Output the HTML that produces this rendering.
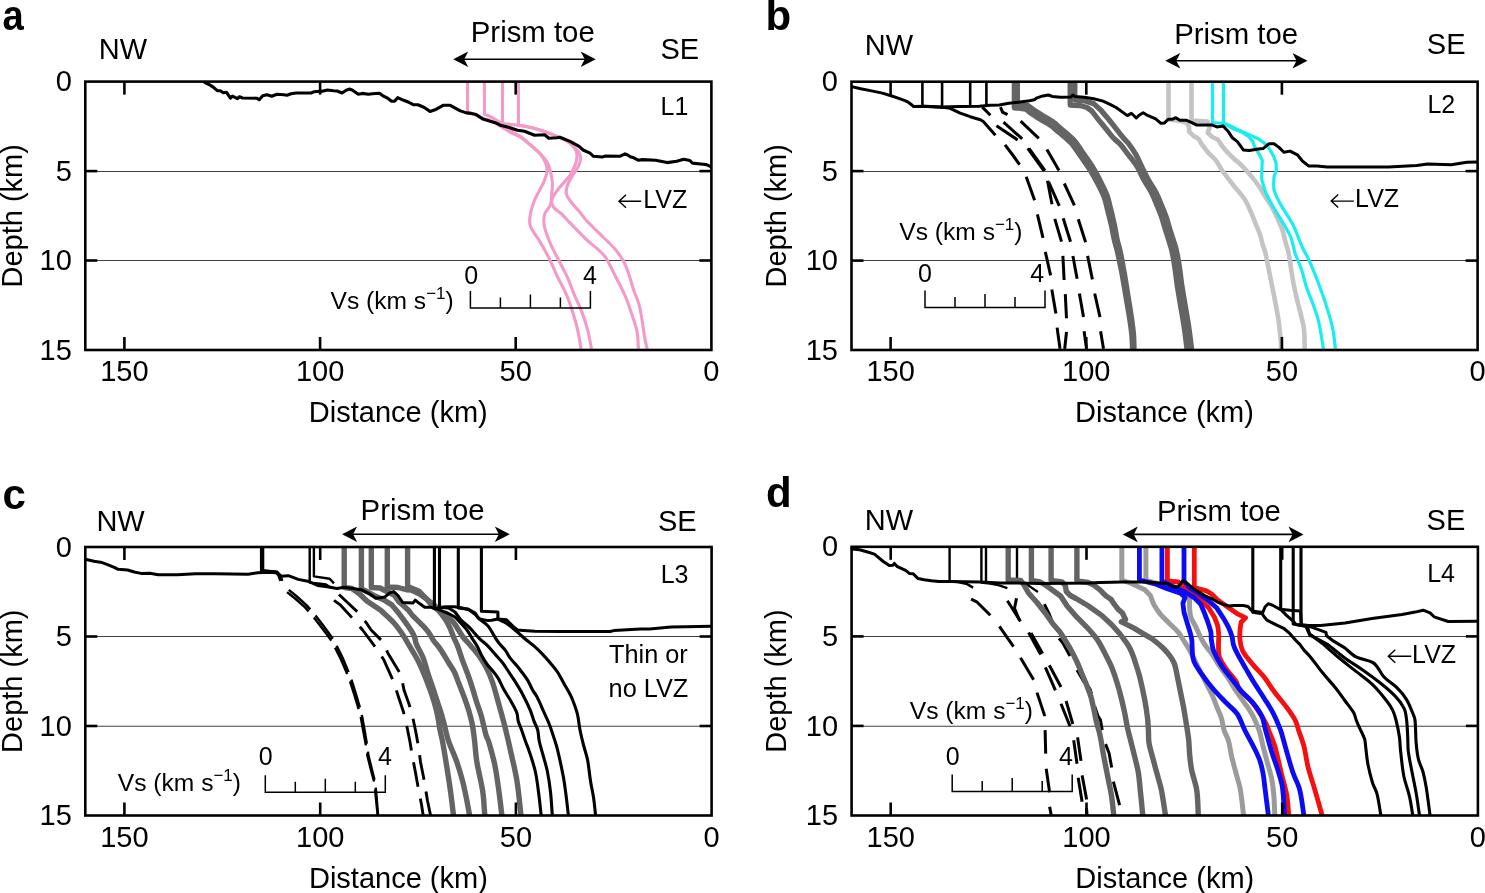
<!DOCTYPE html><html><head><meta charset="utf-8"><style>html,body{margin:0;padding:0;background:#fff;overflow:hidden}svg{display:block;will-change:transform}text{font-family:"Liberation Sans",sans-serif;fill:#000}</style></head><body>
<svg width="1485" height="893" viewBox="0 0 1485 893">
<rect width="1485" height="893" fill="#fff"/>
<line x1="85.3" y1="171.5" x2="711.4" y2="171.5" stroke="#404040" stroke-width="1.05"/>
<line x1="85.3" y1="260.5" x2="711.4" y2="260.5" stroke="#404040" stroke-width="1.05"/>
<line x1="851.5" y1="171.5" x2="1477.6" y2="171.5" stroke="#404040" stroke-width="1.05"/>
<line x1="851.5" y1="260.5" x2="1477.6" y2="260.5" stroke="#404040" stroke-width="1.05"/>
<line x1="85.3" y1="636.5" x2="711.6" y2="636.5" stroke="#404040" stroke-width="1.05"/>
<line x1="85.3" y1="726.3" x2="711.6" y2="726.3" stroke="#404040" stroke-width="1.05"/>
<line x1="851.6" y1="636.5" x2="1477.9" y2="636.5" stroke="#404040" stroke-width="1.05"/>
<line x1="851.6" y1="726.3" x2="1477.9" y2="726.3" stroke="#404040" stroke-width="1.05"/>
<path d="M467.5,81.6 L467.5,112.5 C470.3,113.3 473.3,113.9 476.0,115.0 C478.4,115.9 480.6,117.6 483.0,118.5 C485.3,119.4 487.9,119.5 490.2,120.5 C493.7,122.1 497.0,124.3 500.3,126.2 C503.7,128.2 507.0,130.4 510.4,132.3 C513.7,134.1 517.4,135.3 520.5,137.3 C524.1,139.6 527.3,142.6 530.6,145.4 C534.0,148.3 537.8,151.1 540.7,154.5 C542.8,157.0 544.5,160.1 545.7,163.2 C546.6,165.7 547.2,168.6 547.0,171.2 C546.8,174.4 545.6,177.6 544.4,180.6 C542.9,184.3 540.8,187.8 539.0,191.4 C537.6,194.3 535.8,197.0 534.7,200.0 C533.0,204.5 531.2,209.2 530.4,213.9 C529.7,217.8 529.1,222.3 530.4,226.0 C532.3,231.6 536.8,236.4 539.9,241.7 C542.9,246.8 545.9,252.0 548.6,257.3 C551.7,263.5 554.3,270.1 557.3,276.4 C560.1,282.2 563.5,287.8 566.0,293.7 C568.7,299.9 570.9,306.4 572.9,312.8 C574.9,319.1 576.7,325.5 578.1,331.9 C579.4,337.9 580.2,344.0 581.2,350.0" fill="none" stroke="#f39ac9" stroke-width="3.1" stroke-linejoin="round"/>
<path d="M484.4,81.6 L484.4,114.3 C486.3,115.0 488.2,115.6 490.0,116.5 C492.7,117.8 495.4,119.4 498.0,121.0 C500.4,122.5 502.7,124.3 505.0,126.0 C507.4,127.8 509.5,129.8 512.0,131.5 C515.2,133.7 518.9,135.2 522.0,137.5 C525.5,140.1 528.7,143.1 532.0,146.0 C535.2,148.9 538.6,151.8 541.5,155.0 C543.8,157.5 546.1,160.2 547.7,163.2 C549.0,165.6 549.8,168.5 550.4,171.2 C551.3,175.2 552.2,179.2 552.4,183.3 C552.6,186.9 552.0,190.5 551.7,194.1 C551.4,197.7 551.6,201.5 550.4,204.8 C549.3,208.1 545.8,210.6 544.8,213.9 C543.7,217.7 543.6,222.1 544.3,226.0 C545.4,231.9 547.9,237.8 550.3,243.4 C552.8,249.4 556.1,255.0 559.0,260.8 C561.9,266.6 565.1,272.2 567.7,278.1 C570.3,283.8 572.2,289.8 574.6,295.5 C576.8,300.8 579.6,305.8 581.6,311.1 C584.0,317.3 586.0,323.7 587.7,330.2 C589.4,336.7 590.4,343.4 591.7,350.0" fill="none" stroke="#f39ac9" stroke-width="3.1" stroke-linejoin="round"/>
<path d="M502.5,81.6 L502.5,123.5 C507.8,124.1 513.2,124.5 518.5,125.3 C523.2,126.0 528.0,126.6 532.6,127.8 C538.8,129.4 544.8,131.4 550.8,133.6 C554.3,134.9 557.6,136.7 560.9,138.3 C563.6,139.6 566.6,140.8 569.0,142.5 C571.1,144.0 573.1,145.9 574.5,148.0 C575.8,150.0 576.9,152.6 577.0,155.0 C577.2,158.1 576.4,161.5 575.3,164.5 C574.0,168.3 572.1,171.9 569.9,175.3 C568.0,178.2 565.4,180.6 563.2,183.3 C561.0,186.0 558.4,188.5 556.5,191.4 C554.6,194.3 552.2,197.6 551.7,200.8 C551.3,202.9 552.4,205.7 553.8,207.5 C555.8,210.2 559.3,211.8 561.8,214.2 C563.7,216.0 565.4,218.1 567.2,220.0 C573.7,226.7 580.1,233.4 586.8,239.9 C592.4,245.3 599.3,249.5 604.1,255.5 C608.6,261.1 611.2,268.2 614.6,274.6 C618.2,281.5 621.9,288.4 625.0,295.5 C627.7,301.7 629.8,308.2 631.9,314.6 C633.8,320.3 636.0,326.0 637.1,331.9 C638.2,337.8 638.0,344.0 638.5,350.0" fill="none" stroke="#f39ac9" stroke-width="3.1" stroke-linejoin="round"/>
<path d="M518.4,81.6 L518.4,125.0 C523.5,126.1 528.6,126.9 533.6,128.3 C540.4,130.2 547.2,132.5 553.8,135.0 C558.4,136.7 563.1,138.4 567.2,141.0 C570.3,142.9 572.7,145.8 575.3,148.4 C576.7,149.8 578.4,151.2 579.3,153.0 C580.2,154.8 580.8,157.1 580.6,159.1 C580.3,161.8 579.2,164.7 578.0,167.2 C576.6,170.1 574.2,172.5 572.6,175.3 C570.6,178.8 568.4,182.3 567.2,186.0 C566.4,188.5 565.9,191.6 566.5,194.1 C567.2,197.0 569.3,199.7 571.2,202.2 C574.0,206.0 577.6,209.3 580.6,212.9 C582.5,215.2 584.0,217.8 586.0,220.0 C590.7,225.1 595.8,229.8 600.7,234.7 C605.3,239.3 610.3,243.7 614.6,248.6 C617.8,252.4 620.8,256.5 623.2,260.8 C625.4,264.6 626.9,268.8 628.4,272.9 C630.4,278.6 631.8,284.6 633.7,290.3 C635.3,295.0 637.6,299.4 638.9,304.1 C640.5,309.8 641.3,315.7 642.3,321.5 C643.3,327.3 643.8,333.1 644.9,338.9 C645.6,342.6 646.6,346.3 647.5,350.0" fill="none" stroke="#f39ac9" stroke-width="3.1" stroke-linejoin="round"/>
<path d="M204.1,82.1 L210.2,85.1 L213.2,87.1 L217.3,90.7 L220.3,90.7 L223.3,92.7 L226.4,92.2 L230.4,98.2 L232.4,96.2 L237.5,98.7 L239.5,96.7 L242.5,98.0 L256.7,98.2 L259.2,99.7 L262.7,95.7 L266.8,94.7 L271.8,96.2 L276.9,94.2 L283.9,94.7 L287.0,95.2 L291.0,93.7 L296.1,93.0 L311.2,93.0 L314.2,91.7 L319.3,91.2 L321.3,91.4 L327.4,90.0 L333.4,90.7 L337.1,91.0 L342.1,93.0 L346.2,90.2 L349.2,89.1 L352.2,90.0 L358.3,94.2 L362.3,93.4 L368.4,94.2 L372.4,93.7 L379.5,93.2 L383.5,96.2 L387.6,98.2 L391.6,101.3 L394.6,101.1 L397.7,97.7 L403.7,100.3 L408.8,102.3 L413.8,104.8 L417.9,104.8 L423.9,107.3 L430.0,111.4 L435.1,109.8 L443.1,105.3 L450.2,105.3 L460.3,110.9 L466.4,112.9 L471.4,113.4 L476.1,114.6 L483.1,119.1 L490.2,121.2 L495.3,122.7 L500.3,125.2 L508.4,127.2 L517.5,130.3 L524.5,131.3 L534.6,135.3 L544.7,134.8 L548.8,138.3 L556.9,137.8 L559.9,137.3 L570.0,141.4 L579.1,146.4 L583.1,150.0 L590.0,153.2 L593.5,156.3 L602.3,157.0 L604.9,156.1 L619.8,156.3 L625.0,153.8 L627.7,155.0 L630.3,156.7 L633.8,157.8 L638.2,160.2 L642.5,159.6 L655.7,160.2 L667.1,162.6 L676.7,161.3 L683.7,159.3 L689.8,160.5 L692.5,163.1 L703.0,164.2 L706.5,164.6 L711.3,166.8" fill="none" stroke="#000" stroke-width="3.1" stroke-linejoin="round" stroke-linecap="butt"/>
<path d="M922.4,81.6 L922.4,106.3" fill="none" stroke="#000" stroke-width="2.6" stroke-linejoin="round" stroke-linecap="butt"/>
<path d="M922.4,106.3 L945.0,107.5 L950.1,108.3 L960.2,113.1 L970.2,116.7 L980.3,119.7 L983.3,121.5 L995.4,135.3" fill="none" stroke="#000" stroke-width="3.0" stroke-linejoin="round" stroke-linecap="butt"/>
<path d="M1005.0,144.9 L1011.6,153.5 L1019.6,164.6" fill="none" stroke="#000" stroke-width="3.0" stroke-linejoin="round" stroke-linecap="butt"/>
<path d="M1026.2,176.8 L1034.6,200.3" fill="none" stroke="#000" stroke-width="3.0" stroke-linejoin="round" stroke-linecap="butt"/>
<path d="M1037.4,214.3 L1043.0,237.8" fill="none" stroke="#000" stroke-width="3.0" stroke-linejoin="round" stroke-linecap="butt"/>
<path d="M1045.3,251.8 L1050.6,275.3" fill="none" stroke="#000" stroke-width="3.0" stroke-linejoin="round" stroke-linecap="butt"/>
<path d="M1051.8,289.4 L1055.9,313.5" fill="none" stroke="#000" stroke-width="3.0" stroke-linejoin="round" stroke-linecap="butt"/>
<path d="M1057.1,327.6 L1060.0,348.8" fill="none" stroke="#000" stroke-width="3.0" stroke-linejoin="round" stroke-linecap="butt"/>
<path d="M942.1,81.6 L942.1,107.0" fill="none" stroke="#000" stroke-width="2.6" stroke-linejoin="round" stroke-linecap="butt"/>
<path d="M982.3,107.1 L990.4,115.2" fill="none" stroke="#000" stroke-width="3.0" stroke-linejoin="round" stroke-linecap="butt"/>
<path d="M996.5,125.7 L1017.6,139.9" fill="none" stroke="#000" stroke-width="3.0" stroke-linejoin="round" stroke-linecap="butt"/>
<path d="M1027.7,148.4 L1043.8,170.6" fill="none" stroke="#000" stroke-width="3.0" stroke-linejoin="round" stroke-linecap="butt"/>
<path d="M1047.5,180.7 L1052.0,204.2" fill="none" stroke="#000" stroke-width="3.0" stroke-linejoin="round" stroke-linecap="butt"/>
<path d="M1054.8,218.8 L1061.5,241.7" fill="none" stroke="#000" stroke-width="3.0" stroke-linejoin="round" stroke-linecap="butt"/>
<path d="M1062.9,255.9 L1064.1,280.0" fill="none" stroke="#000" stroke-width="3.0" stroke-linejoin="round" stroke-linecap="butt"/>
<path d="M1065.3,294.1 L1066.5,318.2" fill="none" stroke="#000" stroke-width="3.0" stroke-linejoin="round" stroke-linecap="butt"/>
<path d="M1066.5,331.8 L1064.7,348.8" fill="none" stroke="#000" stroke-width="3.0" stroke-linejoin="round" stroke-linecap="butt"/>
<path d="M970.2,81.6 L970.2,106.5" fill="none" stroke="#000" stroke-width="2.6" stroke-linejoin="round" stroke-linecap="butt"/>
<path d="M1003.5,122.2 L1022.2,138.9" fill="none" stroke="#000" stroke-width="3.0" stroke-linejoin="round" stroke-linecap="butt"/>
<path d="M1029.0,148.4 L1045.0,170.6" fill="none" stroke="#000" stroke-width="3.0" stroke-linejoin="round" stroke-linecap="butt"/>
<path d="M1048.6,181.8 L1059.3,205.9" fill="none" stroke="#000" stroke-width="3.0" stroke-linejoin="round" stroke-linecap="butt"/>
<path d="M1063.2,218.2 L1070.5,241.7" fill="none" stroke="#000" stroke-width="3.0" stroke-linejoin="round" stroke-linecap="butt"/>
<path d="M1072.9,255.9 L1077.1,278.8" fill="none" stroke="#000" stroke-width="3.0" stroke-linejoin="round" stroke-linecap="butt"/>
<path d="M1079.4,293.5 L1083.5,317.1" fill="none" stroke="#000" stroke-width="3.0" stroke-linejoin="round" stroke-linecap="butt"/>
<path d="M1084.1,331.2 L1086.5,348.8" fill="none" stroke="#000" stroke-width="3.0" stroke-linejoin="round" stroke-linecap="butt"/>
<path d="M986.4,81.6 L986.4,106.0" fill="none" stroke="#000" stroke-width="2.6" stroke-linejoin="round" stroke-linecap="butt"/>
<path d="M1000.5,107.1 L1002.5,112.1 L1007.5,114.7" fill="none" stroke="#000" stroke-width="3.0" stroke-linejoin="round" stroke-linecap="butt"/>
<path d="M1020.6,121.2 L1038.8,138.3" fill="none" stroke="#000" stroke-width="3.0" stroke-linejoin="round" stroke-linecap="butt"/>
<path d="M1046.9,149.4 L1059.0,170.6" fill="none" stroke="#000" stroke-width="3.0" stroke-linejoin="round" stroke-linecap="butt"/>
<path d="M1064.3,183.5 L1074.4,205.3" fill="none" stroke="#000" stroke-width="3.0" stroke-linejoin="round" stroke-linecap="butt"/>
<path d="M1078.3,219.3 L1085.6,242.3" fill="none" stroke="#000" stroke-width="3.0" stroke-linejoin="round" stroke-linecap="butt"/>
<path d="M1087.6,255.9 L1092.4,279.4" fill="none" stroke="#000" stroke-width="3.0" stroke-linejoin="round" stroke-linecap="butt"/>
<path d="M1094.7,293.5 L1100.0,317.1" fill="none" stroke="#000" stroke-width="3.0" stroke-linejoin="round" stroke-linecap="butt"/>
<path d="M1100.6,331.2 L1103.5,348.8" fill="none" stroke="#000" stroke-width="3.0" stroke-linejoin="round" stroke-linecap="butt"/>
<path d="M1014.2,81.6 L1014.2,108.0 C1018.0,108.5 1022.0,108.3 1025.6,109.4 C1027.4,109.9 1028.6,111.8 1030.2,112.9 C1033.6,115.2 1037.1,117.4 1040.6,119.6 C1043.7,121.5 1047.0,123.0 1050.0,125.1 C1053.0,127.1 1055.6,129.7 1058.4,132.1 C1061.8,135.0 1065.3,137.9 1068.6,140.9 C1069.8,142.0 1071.0,143.0 1072.0,144.2 C1075.0,148.1 1077.7,152.3 1080.6,156.4 C1083.7,160.9 1087.0,165.2 1089.9,169.8 C1092.6,174.2 1095.0,178.7 1097.3,183.2 C1099.7,187.8 1102.1,192.4 1104.0,197.2 C1105.3,200.5 1105.9,204.0 1106.8,207.4 C1107.3,209.4 1107.8,211.4 1108.3,213.4 C1109.4,217.7 1110.5,222.1 1111.5,226.4 C1112.5,231.1 1113.2,235.7 1114.3,240.3 C1115.1,244.0 1116.4,247.6 1117.2,251.3 C1118.8,258.3 1120.2,265.3 1121.6,272.2 C1122.9,279.2 1124.0,286.2 1125.2,293.2 C1126.4,300.2 1127.7,307.2 1128.8,314.2 C1129.9,321.1 1131.0,328.1 1131.7,335.1 C1132.2,340.0 1132.2,345.1 1132.4,350.0" fill="none" stroke="#646464" stroke-width="5.0" stroke-linejoin="round"/>
<path d="M1017.5,81.6 L1017.5,104.5 L1028.4,105.6 C1029.9,106.8 1031.3,108.0 1032.8,109.1 C1036.2,111.3 1039.6,113.5 1043.0,115.6 C1046.2,117.6 1049.6,119.2 1052.6,121.3 C1055.7,123.5 1058.4,126.2 1061.2,128.7 C1064.7,131.7 1068.2,134.6 1071.6,137.7 C1072.9,138.9 1074.3,140.1 1075.4,141.6 C1078.5,145.6 1081.2,149.9 1084.0,154.0 C1087.1,158.6 1090.4,163.0 1093.3,167.8 C1096.0,172.2 1098.4,176.8 1100.7,181.4 C1103.1,186.2 1105.5,190.9 1107.4,195.8 C1108.7,199.3 1109.3,203.0 1110.2,206.6 C1110.7,208.6 1111.2,210.6 1111.7,212.6 C1112.7,217.0 1113.8,221.3 1114.7,225.8 C1115.7,230.4 1116.3,235.1 1117.3,239.7 C1118.1,243.4 1119.4,247.0 1120.2,250.7 C1121.7,257.7 1123.0,264.7 1124.2,271.8 C1125.5,278.7 1126.5,285.8 1127.6,292.8 C1128.8,299.8 1130.0,306.8 1131.0,313.8 C1132.0,320.8 1133.1,327.9 1133.7,334.9 C1134.1,339.9 1134.0,344.9 1134.2,350.0" fill="none" stroke="#646464" stroke-width="5.0" stroke-linejoin="round"/>
<path d="M1070.2,81.6 L1070.2,105.0 L1080.0,105.5 L1087.0,107.5 L1091.8,111.0 L1098.4,119.6 C1101.1,122.9 1103.8,126.2 1106.5,129.5 C1109.0,132.5 1111.3,135.7 1114.0,138.5 C1116.0,140.7 1118.6,142.3 1120.5,144.5 C1123.4,147.8 1125.9,151.5 1128.5,155.0 C1131.5,158.9 1134.7,162.7 1137.3,166.9 C1139.7,170.8 1141.3,175.3 1143.5,179.3 C1145.8,183.5 1148.7,187.4 1150.9,191.6 C1153.0,195.6 1154.7,199.8 1156.4,203.9 C1158.1,208.0 1159.8,212.0 1161.3,216.2 C1162.7,220.2 1163.7,224.4 1165.0,228.5 C1166.2,232.3 1167.5,236.2 1168.7,240.0 C1169.7,243.3 1170.9,246.6 1171.7,250.0 C1172.8,254.9 1173.7,260.0 1174.5,265.0 C1175.6,272.0 1176.3,279.0 1177.3,286.0 C1178.4,293.0 1179.6,300.0 1180.8,307.0 C1182.0,314.0 1183.3,321.0 1184.3,328.0 C1185.4,335.3 1186.2,342.7 1187.1,350.0" fill="none" stroke="#646464" stroke-width="5.3" stroke-linejoin="round"/>
<path d="M1074.8,81.6 L1074.8,99.8 L1084.3,100.8 L1093.7,103.6 L1101.2,110.5 L1108.8,119.5 C1111.3,122.6 1113.7,125.8 1116.2,128.9 C1118.7,132.0 1121.1,135.2 1123.7,138.3 C1125.2,140.1 1127.1,141.6 1128.5,143.5 C1131.2,147.1 1133.7,150.7 1135.9,154.6 C1138.2,158.5 1139.9,162.8 1141.9,166.9 C1143.9,171.0 1145.9,175.3 1148.1,179.3 C1150.4,183.5 1153.3,187.4 1155.5,191.6 C1157.6,195.6 1159.3,199.8 1161.0,203.9 C1162.7,208.0 1164.4,212.0 1165.9,216.2 C1167.3,220.2 1168.3,224.4 1169.6,228.5 C1170.8,232.3 1172.1,236.2 1173.3,240.0 C1174.3,243.3 1175.5,246.6 1176.3,250.0 C1177.4,254.9 1178.3,260.0 1179.1,265.0 C1180.2,272.0 1180.9,279.0 1181.9,286.0 C1183.0,293.0 1184.2,300.0 1185.4,307.0 C1186.6,314.0 1187.9,321.0 1188.9,328.0 C1190.0,335.3 1190.8,342.7 1191.7,350.0" fill="none" stroke="#646464" stroke-width="5.3" stroke-linejoin="round"/>
<path d="M1168.5,81.6 L1168.5,119.5 L1180.0,121.0 L1186.0,122.5 L1189.1,126.4 L1189.1,131.6 L1193.3,135.7 L1198.4,138.8 L1201.5,143.9 L1207.7,152.2 C1210.4,154.9 1213.5,157.4 1215.9,160.4 C1218.4,163.6 1220.0,167.5 1222.3,170.8 C1226.2,176.3 1230.4,181.5 1234.6,186.8 C1237.8,190.9 1241.6,194.7 1244.5,199.1 C1247.0,202.9 1248.7,207.2 1250.6,211.4 C1252.4,215.4 1254.0,219.6 1255.6,223.7 C1257.3,227.8 1259.1,231.9 1260.5,236.1 C1261.4,238.7 1261.7,241.4 1262.5,244.0 C1263.4,247.0 1264.6,249.9 1265.4,252.9 C1266.5,257.1 1267.1,261.4 1268.0,265.7 C1269.3,272.1 1270.6,278.6 1271.9,285.0 C1273.2,291.5 1274.5,297.9 1275.7,304.4 C1276.9,310.8 1278.2,317.2 1279.0,323.7 C1280.1,332.4 1280.7,341.2 1281.5,350.0" fill="none" stroke="#c4c4c4" stroke-width="4.6" stroke-linejoin="round"/>
<path d="M1191.5,81.6 L1191.5,120.5 L1207.7,121.5 L1209.8,127.4 L1207.7,132.6 L1211.8,136.7 L1218.0,139.8 L1222.1,146.0 L1227.3,152.2 L1234.5,159.4 C1236.6,161.1 1238.9,162.7 1240.8,164.6 C1244.7,168.5 1248.4,172.7 1251.9,176.9 C1254.5,180.1 1257.0,183.4 1259.3,186.8 C1261.5,190.0 1263.3,193.4 1265.4,196.7 C1267.4,200.0 1269.7,203.1 1271.6,206.5 C1273.8,210.5 1275.8,214.6 1277.7,218.8 C1279.5,222.8 1281.3,226.9 1282.7,231.1 C1283.9,234.6 1284.5,238.4 1285.5,242.0 C1286.5,245.6 1287.8,249.2 1288.6,252.9 C1289.7,258.4 1290.3,264.0 1291.2,269.6 C1292.0,274.7 1292.8,279.9 1293.8,285.0 C1294.9,290.6 1296.3,296.2 1297.6,301.8 C1298.8,306.9 1300.3,312.0 1301.5,317.2 C1302.5,321.5 1303.7,325.7 1304.1,330.1 C1304.7,336.7 1304.5,343.4 1304.7,350.0" fill="none" stroke="#c4c4c4" stroke-width="4.6" stroke-linejoin="round"/>
<path d="M1212.5,81.6 L1212.5,122.5 L1224.2,123.5 L1232.4,128.5 L1242.7,132.6 L1248.9,136.7 L1253.0,141.9 L1255.1,148.0 L1259.2,154.2 L1262.3,160.4 L1261.8,170.0 L1261.7,179.4 C1262.9,183.5 1263.8,187.7 1265.4,191.7 C1267.1,195.9 1269.4,200.0 1271.6,204.0 C1273.9,208.2 1276.5,212.3 1279.0,216.4 C1281.5,220.5 1284.1,224.5 1286.4,228.7 C1288.2,231.9 1290.1,235.1 1291.3,238.5 C1293.0,243.1 1293.5,248.2 1295.0,252.9 C1296.9,258.6 1299.6,263.9 1301.5,269.6 C1303.5,275.5 1304.6,281.7 1306.6,287.6 C1308.5,293.3 1311.1,298.8 1313.1,304.4 C1314.9,309.5 1316.8,314.6 1318.2,319.8 C1319.6,325.3 1320.4,330.9 1321.4,336.5 C1322.2,341.0 1322.8,345.5 1323.5,350.0" fill="none" stroke="#18eef0" stroke-width="3.2" stroke-linejoin="round"/>
<path d="M1223.4,81.6 L1223.4,123.5 L1226.2,124.0 L1237.6,129.5 L1247.9,134.1 L1258.2,138.8 L1265.4,143.9 L1269.5,149.1 L1273.6,156.3 L1276.2,163.5 L1276.3,170.0 L1274.0,177.0 C1274.0,181.1 1273.2,185.4 1274.0,189.3 C1274.9,193.6 1277.0,197.7 1279.0,201.6 C1281.1,205.9 1283.9,209.8 1286.4,213.9 C1288.8,218.0 1291.6,221.9 1293.7,226.2 C1295.7,230.1 1297.0,234.4 1298.7,238.5 C1300.3,242.3 1301.8,246.2 1303.6,250.0 C1304.5,251.9 1305.7,253.5 1306.6,255.4 C1308.9,260.1 1311.1,264.8 1313.1,269.6 C1314.9,273.8 1316.6,278.2 1318.2,282.5 C1320.4,288.5 1322.6,294.5 1324.6,300.5 C1326.4,306.0 1328.2,311.6 1329.8,317.2 C1331.0,321.5 1332.2,325.7 1333.0,330.1 C1334.2,336.7 1334.7,343.4 1335.6,350.0" fill="none" stroke="#18eef0" stroke-width="3.2" stroke-linejoin="round"/>
<path d="M851.6,86.6 L860.8,88.8 L871.6,90.9 L882.3,93.1 L891.0,95.8 L897.4,97.9 L905.0,100.6 L908.2,102.2 L912.5,105.5 L913.6,106.6 L925.4,106.2 L941.6,107.1 L960.0,106.6 L979.3,106.2 L990.0,105.3 L999.4,104.9 L1008.9,103.3 L1018.3,102.3 L1027.7,101.1 L1034.3,99.7 L1037.1,97.8 L1042.8,95.9 L1048.4,95.0 L1052.2,96.4 L1060.7,97.3 L1071.1,96.9 L1072.9,95.0 L1074.8,96.4 L1084.3,97.3 L1093.7,98.7 L1103.1,101.1 L1110.0,104.3 L1116.1,107.5 L1127.4,115.6 L1131.4,113.2 L1136.3,118.0 L1139.1,115.2 L1143.1,112.8 L1146.4,114.8 L1155.7,118.8 L1160.9,123.3 L1164.5,122.9 L1168.2,119.2 L1172.7,119.2 L1175.8,117.7 L1179.9,120.2 L1186.1,120.2 L1191.2,122.3 L1196.4,124.9 L1211.8,124.9 L1217.0,126.9 L1223.1,125.9 L1228.3,131.6 L1232.4,137.8 L1237.6,141.9 L1243.3,149.9 L1249.4,150.5 L1258.2,149.1 L1263.0,148.6 L1269.1,143.7 L1274.0,143.7 L1279.0,147.4 L1283.9,152.3 L1290.0,151.1 L1297.4,154.8 L1302.4,161.0 L1308.5,165.9 L1317.1,165.9 L1327.0,167.1 L1350.0,167.1 L1388.4,167.0 L1416.6,165.5 L1427.6,163.9 L1451.2,164.7 L1466.8,162.3 L1477.6,161.9" fill="none" stroke="#000" stroke-width="3.0" stroke-linejoin="round" stroke-linecap="butt"/>
<path d="M261.1,547.0 L261.1,570.5 L275.3,571.7 L278.3,575.2 L280.3,580.8" fill="none" stroke="#000" stroke-width="2.4" stroke-linejoin="round" stroke-linecap="butt"/>
<path d="M283.9,589.6 L295.1,598.5 L305.1,607.4 L313.0,616.3 L321.0,626.7 L327.1,634.7 L332.0,641.6 L335.0,647.5 L341.0,659.4 L346.8,673.0 L350.0,681.4 L354.2,694.3 L358.6,708.9 L360.8,717.4 L363.3,731.1 L366.2,747.1 L367.4,755.6 L370.5,768.1 L374.5,783.3 L375.6,795.0 L377.7,815.5" fill="none" stroke="#000" stroke-width="2.45" stroke-linejoin="round" stroke-dasharray="29 8" stroke-dashoffset="-4"/>
<path d="M263.1,547.0 L263.1,570.5 L277.3,571.7 L280.3,575.2 L282.3,580.8" fill="none" stroke="#000" stroke-width="2.4" stroke-linejoin="round" stroke-linecap="butt"/>
<path d="M285.7,587.4 L296.9,596.5 L306.9,605.6 L315.0,614.7 L323.0,625.3 L328.9,633.3 L334.0,640.4 L337.0,646.5 L343.0,658.6 L348.6,672.2 L351.8,680.8 L355.8,693.7 L360.2,708.5 L362.2,717.0 L364.7,730.9 L367.4,746.9 L368.4,755.4 L371.5,767.9 L375.3,783.1 L376.4,795.0 L378.1,815.5" fill="none" stroke="#000" stroke-width="2.45" stroke-linejoin="round" stroke-dasharray="29 8" stroke-dashoffset="-4"/>
<path d="M309.7,547.0 L309.7,582.6 L318.0,583.5 L326.0,584.5 L330.5,587.5" fill="none" stroke="#000" stroke-width="2.4" stroke-linejoin="round" stroke-linecap="butt"/>
<path d="M313.9,547.0 L313.9,576.4 L329.7,578.8 L334.0,583.4" fill="none" stroke="#000" stroke-width="2.4" stroke-linejoin="round" stroke-linecap="butt"/>
<path d="M334.0,600.4 L340.6,605.2 L352.1,617.8 L362.6,630.0 L375.3,647.0 L383.8,659.8 L393.4,681.1 L398.5,697.0 L403.5,712.0 L407.0,727.0 L410.0,742.0 L412.5,757.0 L415.0,770.0 L418.9,791.7 L421.5,804.5 L423.2,815.5" fill="none" stroke="#000" stroke-width="2.9" stroke-linejoin="round" stroke-dasharray="25 12" stroke-dashoffset="0"/>
<path d="M339.0,594.5 L348.0,603.0 L357.2,611.7 L366.3,622.8 L371.1,630.0 L381.7,640.6 L388.1,653.4 L400.9,674.7 L404.0,690.0 L409.0,704.0 L412.5,716.0 L416.0,733.0 L418.9,749.1 L420.5,762.0 L423.5,777.0 L425.3,787.4 L427.4,800.2 L430.6,815.5" fill="none" stroke="#000" stroke-width="2.9" stroke-linejoin="round" stroke-dasharray="25 12" stroke-dashoffset="0"/>
<path d="M344.2,547.0 L344.2,587.5 L352.0,588.5 L359.6,594.0 L366.9,601.0 L381.0,610.5 C385.3,614.7 390.0,618.5 394.0,623.0 C397.3,626.7 400.2,630.9 403.0,635.0 C405.4,638.6 407.4,642.5 409.6,646.2 C412.2,650.7 415.0,655.0 417.4,659.6 C419.9,664.3 422.0,669.3 424.1,674.2 C426.1,679.0 427.9,683.9 429.7,688.8 C431.3,693.2 432.9,697.7 434.2,702.2 C435.5,706.6 436.7,711.1 437.6,715.6 C438.6,720.4 439.1,725.2 440.0,730.0 C440.7,733.6 441.7,737.2 442.4,740.8 C443.9,748.8 445.2,756.9 446.5,765.0 C447.9,773.7 449.3,782.5 450.5,791.2 C451.6,799.3 452.5,807.4 453.5,815.5" fill="none" stroke="#646464" stroke-width="5.4" stroke-linejoin="round"/>
<path d="M361.4,547.0 L361.4,589.0 L368.0,592.0 L375.0,596.0 L384.0,600.0 L391.8,604.9 L399.6,614.3 C401.7,617.2 403.8,620.0 405.9,622.9 C407.7,625.5 409.6,628.1 411.3,630.8 C412.5,632.8 413.7,634.8 414.5,637.0 C415.3,639.2 415.4,641.8 416.3,644.0 C418.2,648.6 421.2,652.8 423.0,657.4 C424.9,662.1 425.9,667.2 427.5,672.0 C428.9,676.5 430.5,680.9 432.0,685.4 C433.5,689.9 434.9,694.3 436.4,698.8 C437.9,703.3 439.5,707.8 440.9,712.3 C442.1,716.4 443.2,720.5 444.3,724.6 C445.7,730.0 446.7,735.5 448.5,740.8 C450.8,747.7 454.1,754.2 456.5,761.0 C458.8,767.6 460.8,774.3 462.6,781.1 C464.2,787.1 465.4,793.2 466.6,799.3 C467.7,804.7 468.6,810.1 469.6,815.5" fill="none" stroke="#646464" stroke-width="5.4" stroke-linejoin="round"/>
<path d="M371.3,547.0 L371.3,587.5 L380.0,588.0 L387.9,592.0 L394.1,595.0 L399.0,602.0 L403.5,605.7 L408.8,610.6 C410.2,612.4 411.4,614.3 412.9,615.9 C415.4,618.6 418.2,621.0 420.8,623.7 C423.5,626.5 426.3,629.2 428.6,632.3 C430.4,634.7 431.6,637.7 433.3,640.2 C435.3,643.1 437.8,645.5 439.8,648.4 C443.0,653.1 445.8,658.1 448.8,663.0 C450.7,666.0 452.8,668.8 454.4,672.0 C456.2,675.6 457.3,679.5 458.8,683.2 C460.7,688.0 462.6,692.8 464.4,697.7 C466.0,702.1 467.6,706.6 468.9,711.1 C470.2,715.5 471.4,720.1 472.3,724.6 C473.3,729.7 473.9,734.9 474.5,740.0 C475.3,747.0 475.6,754.1 476.7,761.0 C478.3,771.1 481.2,781.1 482.7,791.2 C483.9,799.2 484.1,807.4 484.8,815.5" fill="none" stroke="#646464" stroke-width="5.4" stroke-linejoin="round"/>
<path d="M387.3,547.0 L387.3,587.0 L398.0,587.5 L406.4,589.7 L411.3,590.0 L419.2,593.9 L427.0,599.4 L434.9,605.7 L441.1,613.5 C442.9,616.1 445.0,618.6 446.6,621.3 C448.1,623.8 449.3,626.5 450.5,629.2 C451.6,631.7 452.4,634.4 453.5,637.0 C454.8,640.1 456.5,643.1 457.7,646.2 C459.4,650.6 460.6,655.2 462.2,659.6 C464.0,664.5 466.0,669.3 467.8,674.2 C469.4,678.6 470.9,683.1 472.3,687.6 C473.8,692.4 475.2,697.4 476.7,702.2 C478.1,706.7 479.9,711.1 481.2,715.6 C483.0,722.0 484.2,728.6 486.0,735.0 C486.7,737.4 488.1,739.6 488.8,742.0 C491.0,749.6 493.2,757.2 494.8,765.0 C496.6,773.6 497.7,782.4 498.9,791.2 C500.0,799.3 500.9,807.4 501.9,815.5" fill="none" stroke="#646464" stroke-width="5.4" stroke-linejoin="round"/>
<path d="M407.6,547.0 L407.6,586.5 L418.7,590.9 L426.1,598.3 L432.2,605.7 L440.8,611.9 C443.3,613.6 445.9,615.1 448.2,617.0 C450.3,618.8 452.3,620.8 454.0,623.0 C455.7,625.2 457.0,627.7 458.5,630.0 C460.0,632.3 461.3,634.8 463.0,637.0 C465.5,640.2 468.5,643.1 471.1,646.2 C474.2,649.9 477.4,653.5 480.1,657.4 C482.6,661.0 484.9,664.7 486.8,668.6 C489.0,672.9 490.9,677.4 492.4,682.0 C494.9,689.4 496.8,697.0 498.9,704.5 C501.0,711.9 503.0,719.3 504.9,726.7 C507.1,735.4 509.1,744.1 511.0,752.9 C513.1,762.3 515.5,771.6 517.0,781.1 C518.8,792.5 519.7,804.0 521.0,815.5" fill="none" stroke="#646464" stroke-width="5.4" stroke-linejoin="round"/>
<path d="M434.4,547.0 L434.4,608.0 L440.7,610.4 L448.5,613.5 L455.0,617.0 C456.7,618.7 458.4,620.4 460.0,622.2 C462.4,624.8 465.0,627.4 467.1,630.2 C469.0,632.7 470.4,635.6 472.1,638.3 C473.8,641.0 475.7,643.5 477.2,646.3 C479.0,649.6 480.4,653.1 482.2,656.4 C483.7,659.2 485.4,661.9 487.2,664.5 C488.6,666.5 490.5,668.1 492.0,670.0 C494.1,672.6 496.4,675.2 498.1,678.1 C500.2,681.5 501.5,685.3 503.4,688.8 C505.9,693.4 509.0,697.6 511.5,702.2 C513.5,705.7 515.6,709.3 516.9,713.0 C517.8,715.5 517.5,718.4 518.2,721.0 C519.1,724.1 520.5,727.0 521.6,730.0 C522.8,733.3 523.8,736.7 525.0,740.0 C526.3,743.7 527.9,747.2 529.1,750.9 C531.3,757.5 533.6,764.2 535.2,771.0 C536.8,777.9 537.6,785.0 538.5,792.0 C539.6,799.8 540.3,807.7 541.2,815.5" fill="none" stroke="#000" stroke-width="3.1" stroke-linejoin="round"/>
<path d="M439.5,547.0 L439.5,607.2 L448.5,608.0 L455.0,612.0 L461.0,620.2 C463.7,622.5 466.6,624.7 469.1,627.2 C472.6,630.7 475.7,634.8 479.2,638.3 C482.0,641.1 485.4,643.5 488.2,646.3 C490.7,648.8 492.9,651.7 495.3,654.4 C497.7,657.1 500.2,659.7 502.4,662.5 C504.3,664.9 505.8,667.5 507.5,670.0 C509.7,673.4 512.1,676.7 514.2,680.1 C517.0,684.5 519.8,688.9 522.2,693.5 C525.1,699.0 527.9,704.6 530.3,710.3 C531.7,713.6 532.5,717.1 533.7,720.4 C534.9,723.6 536.8,726.7 537.7,730.0 C538.6,733.5 538.4,737.3 539.2,740.8 C540.2,745.6 541.7,750.3 543.0,755.0 C544.4,760.3 546.2,765.6 547.3,771.0 C548.7,777.9 549.7,785.0 550.5,792.0 C551.4,799.8 551.7,807.7 552.3,815.5" fill="none" stroke="#000" stroke-width="3.1" stroke-linejoin="round"/>
<path d="M458.3,547.0 L458.3,608.0 L468.1,609.1 L475.2,613.1 L478.2,618.1 C481.5,620.8 485.3,623.1 488.2,626.2 C490.3,628.5 491.6,631.6 493.3,634.3 C495.0,637.0 496.4,639.8 498.3,642.3 C500.5,645.2 503.2,647.5 505.4,650.4 C507.3,652.9 508.5,655.9 510.4,658.4 C512.6,661.3 515.2,663.8 517.5,666.5 C518.5,667.6 519.3,668.8 520.2,670.0 C522.7,673.4 525.4,676.6 527.6,680.1 C529.5,683.2 530.8,686.8 532.6,690.0 C533.9,692.4 535.8,694.5 537.0,696.9 C539.5,701.7 541.5,706.7 543.7,711.6 C545.5,715.6 547.5,719.6 549.1,723.7 C550.6,727.4 551.8,731.2 553.0,735.0 C554.5,739.6 556.1,744.2 557.3,748.9 C559.6,758.2 561.6,767.7 563.4,777.1 C564.5,783.0 565.2,789.0 566.0,795.0 C566.9,801.8 567.6,808.7 568.4,815.5" fill="none" stroke="#000" stroke-width="3.1" stroke-linejoin="round"/>
<path d="M481.4,547.0 L481.4,611.2 L497.9,612.0 L497.9,619.0 C500.3,620.2 502.7,621.2 505.0,622.5 C506.9,623.6 508.7,624.9 510.4,626.2 C512.8,628.1 515.2,630.2 517.5,632.2 C520.2,634.5 522.8,637.0 525.5,639.3 C528.8,642.1 532.4,644.6 535.6,647.4 C538.1,649.6 540.4,652.0 542.7,654.4 C545.5,657.3 548.1,660.4 550.7,663.5 C553.1,666.4 555.7,669.3 557.8,672.5 C560.1,676.0 561.8,679.8 563.9,683.4 C565.2,685.8 566.7,688.1 568.0,690.5 C569.4,693.0 570.8,695.5 571.9,698.2 C573.9,703.3 576.0,708.4 577.3,713.7 C578.7,719.0 578.9,724.6 580.0,730.0 C581.0,735.0 582.2,740.0 583.5,745.0 C584.8,750.0 586.6,754.9 587.6,760.0 C588.9,766.9 589.4,774.0 590.5,781.0 C591.4,786.7 592.8,792.3 593.6,798.0 C594.5,803.8 594.9,809.7 595.6,815.5" fill="none" stroke="#000" stroke-width="3.1" stroke-linejoin="round"/>
<path d="M85.3,559.3 L94.0,561.3 L102.1,562.6 L107.5,564.6 L114.2,567.3 L118.2,569.3 L127.6,570.0 L134.3,572.0 L141.1,573.4 L150.0,573.2 L158.1,574.7 L177.3,574.7 L195.5,573.7 L215.7,573.7 L248.0,574.2 L258.1,572.7 L266.2,572.2 L276.3,572.7 L281.3,576.2 L288.4,575.7 L298.2,579.4 L307.9,581.2 L317.6,585.5 L327.3,586.7 L337.0,588.5 L344.2,587.3 L361.2,589.7 L368.5,593.3 L375.8,598.2 L380.0,597.8 L384.7,597.1 L389.4,593.1 L393.7,591.6 L398.0,595.5 L402.7,602.5 L412.9,602.9 L415.3,600.2 L419.2,603.3 L424.7,607.2 L430.9,607.2 L434.9,608.8 L441.1,607.2 L446.6,606.8 L454.5,606.8 L462.3,608.0 L468.6,609.6 L474.0,613.5 L479.9,619.0 L487.7,620.6 L491.6,620.2 L497.9,619.0 L506.5,619.8 L512.8,626.1 L517.5,630.0 L523.0,630.4 L535.0,631.2 L560.0,631.5 L610.2,631.5 L613.8,630.6 L640.6,628.9 L649.6,628.9 L671.1,627.1 L685.4,626.7 L711.5,626.2" fill="none" stroke="#000" stroke-width="3.0" stroke-linejoin="round" stroke-linecap="butt"/>
<path d="M949.6,547.0 L949.6,581.5 L958.0,582.0 L967.1,584.1 L973.1,587.6" fill="none" stroke="#000" stroke-width="2.4" stroke-linejoin="round" stroke-linecap="butt"/>
<path d="M971.1,599.2 L977.2,602.2 L990.3,615.3" fill="none" stroke="#000" stroke-width="3.0" stroke-linejoin="round" stroke-linecap="butt"/>
<path d="M999.4,626.4 L1013.5,646.6" fill="none" stroke="#000" stroke-width="3.0" stroke-linejoin="round" stroke-linecap="butt"/>
<path d="M1020.5,657.7 L1033.6,679.8" fill="none" stroke="#000" stroke-width="3.0" stroke-linejoin="round" stroke-linecap="butt"/>
<path d="M1037.0,692.6 L1044.8,716.1" fill="none" stroke="#000" stroke-width="3.0" stroke-linejoin="round" stroke-linecap="butt"/>
<path d="M1045.1,730.1 L1045.7,753.6" fill="none" stroke="#000" stroke-width="3.0" stroke-linejoin="round" stroke-linecap="butt"/>
<path d="M1046.2,768.7 L1049.6,792.2" fill="none" stroke="#000" stroke-width="3.0" stroke-linejoin="round" stroke-linecap="butt"/>
<path d="M1049.6,806.8 L1051.3,815.5" fill="none" stroke="#000" stroke-width="3.0" stroke-linejoin="round" stroke-linecap="butt"/>
<path d="M981.4,547.0 L981.4,582.5 L990.0,583.5 L998.3,585.1 L1007.4,588.1" fill="none" stroke="#000" stroke-width="2.4" stroke-linejoin="round" stroke-linecap="butt"/>
<path d="M1007.4,600.7 L1020.5,621.4" fill="none" stroke="#000" stroke-width="3.0" stroke-linejoin="round" stroke-linecap="butt"/>
<path d="M1028.6,632.5 L1040.7,654.6" fill="none" stroke="#000" stroke-width="3.0" stroke-linejoin="round" stroke-linecap="butt"/>
<path d="M1045.4,667.4 L1055.4,690.4" fill="none" stroke="#000" stroke-width="3.0" stroke-linejoin="round" stroke-linecap="butt"/>
<path d="M1061.0,703.8 L1070.0,726.2" fill="none" stroke="#000" stroke-width="3.0" stroke-linejoin="round" stroke-linecap="butt"/>
<path d="M1073.7,740.2 L1077.0,763.7" fill="none" stroke="#000" stroke-width="3.0" stroke-linejoin="round" stroke-linecap="butt"/>
<path d="M1078.2,777.7 L1082.1,801.7" fill="none" stroke="#000" stroke-width="3.0" stroke-linejoin="round" stroke-linecap="butt"/>
<path d="M986.0,547.0 L986.0,582.5" fill="none" stroke="#000" stroke-width="2.4" stroke-linejoin="round" stroke-linecap="butt"/>
<path d="M1016.5,598.2 L1014.5,608.3 L1019.5,620.4" fill="none" stroke="#000" stroke-width="3.0" stroke-linejoin="round" stroke-linecap="butt"/>
<path d="M1031.0,633.0 L1042.6,653.4" fill="none" stroke="#000" stroke-width="3.0" stroke-linejoin="round" stroke-linecap="butt"/>
<path d="M1049.3,665.2 L1061.0,687.0" fill="none" stroke="#000" stroke-width="3.0" stroke-linejoin="round" stroke-linecap="butt"/>
<path d="M1066.1,701.0 L1072.8,724.0" fill="none" stroke="#000" stroke-width="3.0" stroke-linejoin="round" stroke-linecap="butt"/>
<path d="M1077.6,737.4 L1081.0,760.9" fill="none" stroke="#000" stroke-width="3.0" stroke-linejoin="round" stroke-linecap="butt"/>
<path d="M1082.1,775.4 L1086.6,799.5" fill="none" stroke="#000" stroke-width="3.0" stroke-linejoin="round" stroke-linecap="butt"/>
<path d="M1086.5,808.0 L1087.1,815.5" fill="none" stroke="#000" stroke-width="3.0" stroke-linejoin="round" stroke-linecap="butt"/>
<path d="M1017.0,547.0 L1017.0,582.5 L1025.0,583.0 L1029.7,586.4 L1037.9,592.1" fill="none" stroke="#000" stroke-width="2.4" stroke-linejoin="round" stroke-linecap="butt"/>
<path d="M1044.4,604.2 L1049.2,614.0 L1054.0,626.0" fill="none" stroke="#000" stroke-width="3.0" stroke-linejoin="round" stroke-linecap="butt"/>
<path d="M1059.0,638.4 L1063.0,643.2 L1070.0,656.0" fill="none" stroke="#000" stroke-width="3.0" stroke-linejoin="round" stroke-linecap="butt"/>
<path d="M1077.0,670.0 L1084.0,682.0 L1089.9,688.7 L1091.5,693.6" fill="none" stroke="#000" stroke-width="3.0" stroke-linejoin="round" stroke-linecap="butt"/>
<path d="M1094.7,706.6 L1098.0,716.0 L1100.5,720.0 L1102.2,730.1" fill="none" stroke="#000" stroke-width="3.0" stroke-linejoin="round" stroke-linecap="butt"/>
<path d="M1105.6,744.1 L1109.1,753.2 L1111.7,767.6" fill="none" stroke="#000" stroke-width="3.0" stroke-linejoin="round" stroke-linecap="butt"/>
<path d="M1113.4,781.6 L1119.6,805.1" fill="none" stroke="#000" stroke-width="3.0" stroke-linejoin="round" stroke-linecap="butt"/>
<path d="M1008.2,547.0 L1008.2,580.0 L1020.8,580.5 L1024.0,585.0 L1028.5,593.0 L1037.0,602.5 L1046.0,614.0 L1053.0,624.0 L1060.0,632.0 C1061.7,634.7 1063.4,637.3 1065.0,640.0 C1067.0,643.3 1069.1,646.6 1071.0,650.0 C1073.1,653.9 1075.1,657.9 1077.0,662.0 C1078.8,665.9 1080.3,670.0 1082.0,674.0 C1083.7,678.0 1085.4,682.0 1087.0,686.0 C1088.4,689.6 1089.9,693.3 1091.0,697.0 C1092.2,701.3 1093.0,705.7 1094.0,710.0 C1094.9,714.0 1095.5,718.0 1096.5,722.0 C1097.5,726.4 1099.1,730.6 1100.0,735.0 C1101.4,741.6 1102.3,748.3 1103.5,755.0 C1104.8,761.8 1106.2,768.7 1107.5,775.5 C1108.8,782.2 1110.4,788.8 1111.5,795.5 C1112.5,802.1 1113.0,808.8 1113.8,815.5" fill="none" stroke="#646464" stroke-width="5.4" stroke-linejoin="round"/>
<path d="M1031.4,547.0 L1031.4,580.5 L1040.0,582.0 L1046.0,585.4 L1055.0,592.0 L1060.6,596.0 L1067.1,605.9 L1076.9,617.2 L1088.2,628.6 C1091.3,632.4 1094.8,635.9 1097.5,640.0 C1100.6,644.6 1103.0,649.6 1105.5,654.5 C1107.8,658.9 1110.1,663.4 1112.0,668.0 C1113.9,672.7 1115.5,677.6 1117.0,682.5 C1118.5,687.3 1119.8,692.1 1121.0,697.0 C1122.3,702.0 1123.4,707.0 1124.5,712.0 C1125.6,717.3 1126.4,722.7 1127.5,728.0 C1128.4,732.0 1129.5,736.0 1130.5,740.0 C1131.8,745.1 1133.1,750.1 1134.3,755.2 C1135.7,760.9 1137.3,766.5 1138.3,772.3 C1139.3,778.3 1139.7,784.4 1140.3,790.5 C1141.2,798.8 1142.0,807.2 1142.8,815.5" fill="none" stroke="#646464" stroke-width="5.4" stroke-linejoin="round"/>
<path d="M1051.1,547.0 L1051.1,580.5 L1062.0,582.0 L1065.3,585.4 L1066.3,591.5 L1070.3,595.5 L1076.0,598.5 L1088.5,606.0 L1102.0,615.6 L1112.0,625.0 L1120.0,634.0 C1122.7,637.7 1125.6,641.2 1128.0,645.0 C1129.6,647.5 1130.9,650.3 1132.0,653.0 C1133.3,656.2 1134.4,659.4 1135.4,662.7 C1137.1,667.9 1138.8,673.0 1140.1,678.3 C1141.9,685.6 1143.4,692.9 1144.8,700.3 C1145.9,706.2 1146.8,712.1 1147.5,718.0 C1148.0,722.0 1148.2,726.0 1148.4,730.0 C1148.7,734.3 1148.3,738.7 1149.0,743.0 C1150.0,748.8 1151.9,754.5 1153.4,760.2 C1154.7,765.3 1156.1,770.3 1157.5,775.4 C1158.8,780.4 1160.5,785.4 1161.5,790.5 C1163.1,798.8 1164.2,807.2 1165.5,815.5" fill="none" stroke="#646464" stroke-width="5.4" stroke-linejoin="round"/>
<path d="M1076.9,547.0 L1076.9,581.0 L1088.0,582.5 L1093.1,584.7 L1100.0,589.8 L1106.1,596.1 L1111.2,599.5 L1114.2,604.2 L1118.2,609.4 L1122.4,613.0 L1125.5,619.5 L1121.3,621.9 L1129.1,625.6 L1133.9,628.2 L1144.8,634.6 L1152.7,639.2 C1156.1,642.1 1159.8,644.9 1163.0,648.0 C1165.5,650.5 1167.9,653.1 1170.0,656.0 C1171.8,658.5 1173.5,661.1 1174.5,664.0 C1176.1,668.6 1176.7,673.5 1177.7,678.3 C1178.8,683.5 1179.8,688.8 1180.9,694.0 C1181.9,699.2 1183.1,704.5 1184.0,709.7 C1184.9,714.8 1185.7,719.9 1186.5,725.0 C1187.3,730.0 1188.2,735.0 1188.7,740.0 C1189.2,745.0 1189.2,750.1 1189.7,755.2 C1190.2,760.2 1190.7,765.3 1191.7,770.3 C1193.1,777.1 1195.8,783.7 1196.8,790.5 C1198.0,798.7 1197.8,807.2 1198.3,815.5" fill="none" stroke="#646464" stroke-width="5.4" stroke-linejoin="round"/>
<path d="M1121.8,547.0 L1121.8,580.0 L1131.4,583.5 L1144.8,589.8 L1150.4,595.4 C1151.5,598.4 1152.3,601.6 1153.8,604.4 C1155.7,607.9 1158.0,611.3 1160.5,614.4 C1163.2,617.6 1166.4,620.4 1169.4,623.4 C1172.4,626.4 1175.7,629.1 1178.4,632.3 C1180.4,634.6 1181.8,637.4 1183.4,640.0 C1185.7,643.7 1188.1,647.4 1190.2,651.2 C1192.2,654.8 1193.9,658.7 1195.8,662.4 C1197.7,666.1 1199.5,669.9 1201.4,673.6 C1203.3,677.3 1205.1,681.1 1207.0,684.8 C1208.9,688.5 1210.9,692.2 1212.6,696.0 C1214.2,699.7 1215.5,703.5 1217.0,707.2 C1218.5,710.9 1220.3,714.6 1221.5,718.4 C1222.7,722.2 1222.8,726.2 1224.0,730.0 C1225.2,733.7 1227.4,737.1 1228.5,740.8 C1230.0,746.0 1230.5,751.6 1231.7,756.9 C1233.0,762.3 1234.6,767.7 1236.0,773.1 C1237.4,778.5 1239.3,783.8 1240.3,789.3 C1241.8,797.9 1242.5,806.8 1243.6,815.5" fill="none" stroke="#9b9b9b" stroke-width="5.0" stroke-linejoin="round"/>
<path d="M1145.9,547.0 L1145.9,580.5 L1156.0,583.1 L1172.8,589.8 L1185.1,594.3 L1189.6,598.8 C1189.6,601.8 1189.4,604.7 1189.6,607.7 C1189.8,610.7 1189.8,613.9 1190.7,616.7 C1191.7,619.8 1193.8,622.6 1195.2,625.6 C1197.2,629.7 1198.9,633.9 1201.0,638.0 C1202.2,640.4 1203.5,642.8 1205.0,645.0 C1207.0,647.9 1209.4,650.5 1211.4,653.4 C1214.2,657.4 1216.5,661.7 1219.3,665.8 C1222.1,670.0 1225.4,673.9 1228.2,678.1 C1230.6,681.7 1232.6,685.6 1235.0,689.3 C1237.5,693.1 1240.2,696.8 1242.8,700.5 C1245.4,704.2 1248.3,707.8 1250.6,711.7 C1252.7,715.3 1254.5,719.1 1256.2,722.9 C1257.5,725.8 1258.7,728.8 1259.6,731.8 C1261.0,736.5 1261.8,741.4 1263.0,746.2 C1264.4,751.6 1265.9,756.9 1267.3,762.3 C1268.7,767.7 1270.5,773.0 1271.6,778.5 C1272.7,783.8 1273.3,789.3 1273.8,794.7 C1274.4,801.6 1274.5,808.6 1274.8,815.5" fill="none" stroke="#9b9b9b" stroke-width="5.0" stroke-linejoin="round"/>
<path d="M1139.4,547.0 L1139.4,580.0 L1156.0,584.2 L1167.2,588.7 L1180.6,593.2 L1185.1,597.6 L1182.9,603.2 L1184.0,612.2 L1187.3,623.4 C1188.4,627.1 1189.7,630.8 1190.7,634.6 C1191.2,636.4 1191.6,638.2 1191.8,640.0 C1192.5,646.7 1191.7,653.9 1193.5,660.2 C1194.9,665.1 1198.5,669.3 1201.4,673.6 C1204.9,678.7 1208.6,683.5 1212.6,688.2 C1216.8,693.2 1221.5,697.9 1226.0,702.7 C1229.7,706.5 1234.3,709.6 1237.2,713.9 C1240.5,718.7 1242.1,724.7 1244.7,730.0 C1247.4,735.5 1250.6,740.7 1253.3,746.2 C1255.6,750.8 1258.0,755.4 1259.7,760.2 C1261.2,764.4 1262.2,768.7 1263.0,773.1 C1264.0,778.4 1264.4,783.9 1265.1,789.3 C1266.2,798.0 1267.3,806.8 1268.4,815.5" fill="none" stroke="#0b0bf5" stroke-width="4.8" stroke-linejoin="round"/>
<path d="M1167.4,547.0 L1167.4,581.0 L1178.4,582.0 L1184.0,587.6 L1191.8,593.2 L1200.8,599.9 L1208.6,607.7 L1214.2,616.7 C1215.3,619.7 1216.8,622.5 1217.6,625.6 C1218.3,628.5 1218.6,631.6 1218.7,634.6 C1218.9,638.1 1218.4,641.5 1218.5,645.0 C1218.6,648.9 1218.1,653.2 1219.3,656.8 C1220.9,661.6 1224.2,665.9 1227.1,670.2 C1229.8,674.1 1233.5,677.4 1236.1,681.4 C1237.6,683.8 1237.7,687.1 1239.4,689.3 C1242.5,693.4 1247.2,696.5 1250.6,700.5 C1253.9,704.3 1256.8,708.6 1259.6,712.8 C1262.0,716.4 1264.3,720.1 1266.3,724.0 C1267.4,726.2 1268.1,728.7 1269.0,731.0 C1270.9,736.1 1273.3,741.0 1274.8,746.2 C1277.4,755.0 1279.1,764.1 1281.3,773.1 C1283.1,780.3 1285.4,787.4 1286.7,794.7 C1287.9,801.5 1288.1,808.6 1288.8,815.5" fill="none" stroke="#f50f0f" stroke-width="4.8" stroke-linejoin="round"/>
<path d="M1161.9,547.0 L1161.9,581.0 L1172.8,586.4 L1185.1,592.0 L1194.1,597.6 L1200.8,604.4 L1204.1,612.2 L1207.5,621.1 C1208.6,624.8 1210.1,628.5 1210.9,632.3 C1211.4,634.8 1211.0,637.5 1211.4,640.0 C1212.0,643.8 1212.3,647.7 1213.7,651.2 C1215.7,656.3 1218.5,661.2 1221.5,665.8 C1224.8,670.9 1228.9,675.5 1232.7,680.3 C1235.7,684.1 1238.5,687.9 1241.7,691.5 C1245.2,695.4 1249.6,698.6 1252.9,702.7 C1256.3,706.8 1259.6,711.3 1261.8,716.1 C1263.8,720.4 1264.2,725.4 1265.5,730.0 C1267.5,737.2 1269.4,744.5 1271.6,751.6 C1273.6,758.1 1276.1,764.4 1278.1,770.9 C1279.7,776.2 1281.6,781.6 1282.4,787.1 C1283.7,796.5 1283.8,806.0 1284.5,815.5" fill="none" stroke="#0b0bf5" stroke-width="4.8" stroke-linejoin="round"/>
<path d="M1184.0,547.0 L1184.0,581.0 L1189.6,587.6 L1198.5,593.2 L1207.5,599.9 L1216.5,607.7 L1223.2,617.8 C1225.1,621.2 1227.2,624.4 1228.8,627.9 C1230.1,630.8 1231.3,633.8 1232.1,636.8 C1232.8,639.5 1232.7,642.4 1233.5,645.0 C1234.4,647.9 1235.8,650.7 1237.2,653.4 C1240.0,658.7 1243.1,663.9 1246.1,669.1 C1248.7,673.6 1251.3,678.2 1254.0,682.6 C1257.3,687.9 1260.8,693.0 1264.1,698.2 C1267.1,703.0 1270.4,707.7 1273.0,712.8 C1275.9,718.3 1278.3,724.2 1280.5,730.0 C1281.8,733.2 1282.5,736.7 1283.5,740.0 C1284.6,743.9 1285.6,747.7 1286.7,751.6 C1288.8,758.8 1290.7,766.0 1293.1,773.1 C1295.0,778.6 1298.2,783.7 1299.6,789.3 C1301.8,797.8 1302.5,806.8 1303.9,815.5" fill="none" stroke="#0b0bf5" stroke-width="4.8" stroke-linejoin="round"/>
<path d="M1194.3,547.0 L1194.3,587.6 L1206.4,590.9 L1212.0,594.3 L1217.6,599.9 L1228.8,607.7 L1236.6,613.3 L1245.6,617.8 L1241.1,622.3 C1240.7,624.9 1240.2,627.5 1240.0,630.1 C1239.8,633.4 1239.6,636.8 1240.0,640.0 C1240.5,643.8 1241.0,647.9 1242.8,651.2 C1245.3,656.1 1249.3,660.3 1252.9,664.6 C1256.4,668.9 1260.7,672.6 1264.1,677.0 C1267.7,681.6 1270.6,686.8 1274.1,691.5 C1278.1,696.9 1282.6,701.8 1286.5,707.2 C1289.7,711.5 1292.9,715.9 1295.4,720.6 C1296.9,723.5 1297.5,726.9 1298.5,730.0 C1300.3,735.4 1302.5,740.7 1303.9,746.2 C1305.7,753.3 1306.4,760.6 1308.2,767.7 C1310.0,775.0 1312.6,782.1 1314.7,789.3 C1317.3,798.0 1319.7,806.8 1322.2,815.5" fill="none" stroke="#f50f0f" stroke-width="4.8" stroke-linejoin="round"/>
<path d="M1252.8,547.0 L1252.8,612.2 L1262.2,613.8 L1263.8,616.2 L1266.9,620.1 L1276.3,624.8 L1284.2,628.7 L1289.7,633.4 L1295.9,640.5 L1300.0,644.6 L1303.8,649.9 C1306.3,652.6 1308.9,655.2 1311.2,658.0 C1315.1,662.7 1318.5,667.8 1322.4,672.6 C1326.7,677.9 1331.5,682.9 1335.8,688.2 C1339.0,692.2 1341.8,696.4 1344.8,700.5 C1347.8,704.6 1351.2,708.5 1353.8,712.9 C1355.0,715.0 1355.3,717.7 1356.2,720.0 C1357.1,722.3 1358.0,724.5 1359.0,726.7 C1360.8,730.8 1363.2,734.8 1364.6,739.0 C1365.5,741.9 1365.4,745.0 1365.8,748.0 C1366.5,753.6 1366.9,759.3 1368.0,764.8 C1369.2,770.8 1370.7,776.8 1372.5,782.7 C1373.7,786.5 1376.0,790.0 1377.0,793.9 C1378.8,801.0 1379.6,808.3 1380.9,815.5" fill="none" stroke="#000" stroke-width="3.1" stroke-linejoin="round"/>
<path d="M1280.7,547.0 L1280.7,609.5 L1286.5,615.4 L1292.8,620.9 L1296.0,624.5 L1306.0,626.3 L1309.0,633.4 L1322.4,643.4 C1328.0,648.3 1333.5,653.3 1339.2,658.0 C1344.7,662.6 1350.4,666.9 1356.0,671.4 C1361.6,675.9 1367.7,679.9 1372.8,684.9 C1378.1,690.0 1382.8,695.9 1387.3,701.7 C1389.5,704.5 1391.4,707.5 1392.9,710.6 C1394.3,713.6 1395.2,716.8 1396.0,720.0 C1397.4,725.5 1398.6,731.2 1399.4,736.8 C1400.1,741.2 1400.0,745.7 1400.5,750.2 C1401.5,758.8 1402.2,767.5 1403.8,776.0 C1405.1,782.8 1407.9,789.3 1409.4,796.1 C1410.9,802.5 1411.7,809.0 1412.8,815.5" fill="none" stroke="#000" stroke-width="3.1" stroke-linejoin="round"/>
<path d="M1293.2,547.0 L1293.2,624.0 L1306.1,626.3 L1307.7,627.9 L1310.0,635.8 L1311.2,635.6 L1328.0,644.6 C1333.6,649.1 1339.0,653.8 1344.8,658.0 C1350.2,662.0 1356.1,665.3 1361.6,669.2 C1367.3,673.2 1373.0,677.2 1378.4,681.5 C1384.2,686.1 1390.1,690.8 1395.2,696.1 C1398.7,699.7 1402.0,703.9 1404.1,708.4 C1405.8,711.9 1406.1,716.1 1406.6,720.0 C1407.3,725.6 1407.4,731.2 1407.7,736.8 C1408.0,741.7 1407.7,746.6 1408.3,751.4 C1409.1,757.8 1410.5,764.1 1411.7,770.4 C1413.1,777.9 1414.8,785.3 1416.1,792.8 C1417.4,800.3 1418.4,807.9 1419.5,815.5" fill="none" stroke="#000" stroke-width="3.1" stroke-linejoin="round"/>
<path d="M1301.0,547.0 L1301.0,624.8 L1311.6,627.1 L1326.0,632.4 L1326.5,635.8 L1333.6,641.2 L1344.8,647.9 C1348.5,650.9 1351.8,654.7 1356.0,656.9 C1361.2,659.6 1367.6,660.0 1372.8,662.5 C1374.7,663.4 1376.0,665.3 1377.3,667.0 C1379.7,670.2 1381.3,674.1 1384.0,677.0 C1388.0,681.2 1393.3,684.1 1397.4,688.2 C1400.8,691.6 1403.9,695.3 1406.4,699.4 C1409.2,703.9 1411.0,709.1 1413.1,714.0 C1413.9,715.9 1414.8,717.9 1415.0,720.0 C1415.8,727.4 1415.5,735.0 1416.1,742.4 C1416.6,748.0 1417.1,753.7 1418.4,759.2 C1419.4,763.4 1421.7,767.3 1422.9,771.5 C1424.3,776.6 1425.3,781.9 1426.2,787.2 C1427.7,796.6 1428.8,806.1 1430.1,815.5" fill="none" stroke="#000" stroke-width="3.1" stroke-linejoin="round"/>
<path d="M851.6,547.5 L852.2,548.9 L859.6,549.7 L868.5,552.3 L874.4,554.1 L883.3,561.5 L889.3,565.6 L893.0,565.2 L894.4,563.4 L897.4,566.7 L905.6,570.4 L909.3,573.4 L913.0,573.7 L918.1,578.6 L924.1,579.7 L931.5,580.8 L938.9,581.5 L950.0,581.5 L980.4,582.0 L1000.6,582.9 L1041.0,583.4 L1090.0,582.9 L1100.0,582.5 L1122.4,582.0 L1144.8,582.0 L1167.2,583.6 L1173.9,587.0 L1178.4,586.4 L1182.9,580.8 L1189.6,585.3 L1195.2,589.8 L1200.8,593.2 L1206.4,596.5 L1212.0,598.8 L1217.6,602.1 L1223.2,604.4 L1228.8,606.0 L1234.4,605.5 L1243.3,605.5 L1248.0,606.5 L1252.1,611.0 L1262.8,612.5 L1265.0,607.0 L1268.2,603.7 L1272.0,605.0 L1280.3,609.3 L1290.0,610.3 L1300.5,611.0 L1301.5,624.8 L1308.6,625.6 L1320.6,625.6 L1345.0,623.0 L1372.0,618.5 L1402.0,614.5 L1415.2,612.1 L1423.1,610.2 L1430.1,612.9 L1434.1,616.8 L1448.2,621.5 L1477.9,621.2" fill="none" stroke="#000" stroke-width="3.0" stroke-linejoin="round" stroke-linecap="butt"/>
<rect x="85.3" y="81.6" width="626.1" height="268.4" fill="none" stroke="#000" stroke-width="2.6"/>
<line x1="124.4" y1="81.6" x2="124.4" y2="94.6" stroke="#000" stroke-width="2.6"/>
<line x1="124.4" y1="350.0" x2="124.4" y2="337.0" stroke="#000" stroke-width="2.6"/>
<line x1="320.1" y1="81.6" x2="320.1" y2="94.6" stroke="#000" stroke-width="2.6"/>
<line x1="320.1" y1="350.0" x2="320.1" y2="337.0" stroke="#000" stroke-width="2.6"/>
<line x1="515.7" y1="81.6" x2="515.7" y2="94.6" stroke="#000" stroke-width="2.6"/>
<line x1="515.7" y1="350.0" x2="515.7" y2="337.0" stroke="#000" stroke-width="2.6"/>
<line x1="85.3" y1="171.1" x2="97.3" y2="171.1" stroke="#000" stroke-width="2.6"/>
<line x1="711.4" y1="171.1" x2="699.4" y2="171.1" stroke="#000" stroke-width="2.6"/>
<line x1="85.3" y1="260.5" x2="97.3" y2="260.5" stroke="#000" stroke-width="2.6"/>
<line x1="711.4" y1="260.5" x2="699.4" y2="260.5" stroke="#000" stroke-width="2.6"/>
<text x="71.8" y="91.2" text-anchor="end" font-size="29">0</text>
<text x="71.8" y="180.7" text-anchor="end" font-size="29">5</text>
<text x="71.8" y="270.1" text-anchor="end" font-size="29">10</text>
<text x="71.8" y="359.6" text-anchor="end" font-size="29">15</text>
<text x="124.4" y="381.3" text-anchor="middle" font-size="29">150</text>
<text x="320.1" y="381.3" text-anchor="middle" font-size="29">100</text>
<text x="515.7" y="381.3" text-anchor="middle" font-size="29">50</text>
<text x="711.4" y="381.3" text-anchor="middle" font-size="29">0</text>
<text x="398.3" y="422.2" text-anchor="middle" font-size="29">Distance (km)</text>
<text transform="translate(22.0,215.8) rotate(-90)" x="0" y="0" text-anchor="middle" font-size="29">Depth (km)</text>
<rect x="851.5" y="81.7" width="626.1" height="268.3" fill="none" stroke="#000" stroke-width="2.6"/>
<line x1="890.6" y1="81.7" x2="890.6" y2="94.7" stroke="#000" stroke-width="2.6"/>
<line x1="890.6" y1="350.0" x2="890.6" y2="337.0" stroke="#000" stroke-width="2.6"/>
<line x1="1086.3" y1="81.7" x2="1086.3" y2="94.7" stroke="#000" stroke-width="2.6"/>
<line x1="1086.3" y1="350.0" x2="1086.3" y2="337.0" stroke="#000" stroke-width="2.6"/>
<line x1="1281.9" y1="81.7" x2="1281.9" y2="94.7" stroke="#000" stroke-width="2.6"/>
<line x1="1281.9" y1="350.0" x2="1281.9" y2="337.0" stroke="#000" stroke-width="2.6"/>
<line x1="851.5" y1="171.1" x2="863.5" y2="171.1" stroke="#000" stroke-width="2.6"/>
<line x1="1477.6" y1="171.1" x2="1465.6" y2="171.1" stroke="#000" stroke-width="2.6"/>
<line x1="851.5" y1="260.6" x2="863.5" y2="260.6" stroke="#000" stroke-width="2.6"/>
<line x1="1477.6" y1="260.6" x2="1465.6" y2="260.6" stroke="#000" stroke-width="2.6"/>
<text x="838.0" y="91.3" text-anchor="end" font-size="29">0</text>
<text x="838.0" y="180.7" text-anchor="end" font-size="29">5</text>
<text x="838.0" y="270.2" text-anchor="end" font-size="29">10</text>
<text x="838.0" y="359.6" text-anchor="end" font-size="29">15</text>
<text x="890.6" y="381.3" text-anchor="middle" font-size="29">150</text>
<text x="1086.3" y="381.3" text-anchor="middle" font-size="29">100</text>
<text x="1281.9" y="381.3" text-anchor="middle" font-size="29">50</text>
<text x="1477.6" y="381.3" text-anchor="middle" font-size="29">0</text>
<text x="1164.5" y="422.2" text-anchor="middle" font-size="29">Distance (km)</text>
<text transform="translate(785.6,215.8) rotate(-90)" x="0" y="0" text-anchor="middle" font-size="29">Depth (km)</text>
<rect x="85.3" y="547.0" width="626.3" height="268.5" fill="none" stroke="#000" stroke-width="2.6"/>
<line x1="124.4" y1="547.0" x2="124.4" y2="560.0" stroke="#000" stroke-width="2.6"/>
<line x1="124.4" y1="815.5" x2="124.4" y2="802.5" stroke="#000" stroke-width="2.6"/>
<line x1="320.2" y1="547.0" x2="320.2" y2="560.0" stroke="#000" stroke-width="2.6"/>
<line x1="320.2" y1="815.5" x2="320.2" y2="802.5" stroke="#000" stroke-width="2.6"/>
<line x1="515.9" y1="547.0" x2="515.9" y2="560.0" stroke="#000" stroke-width="2.6"/>
<line x1="515.9" y1="815.5" x2="515.9" y2="802.5" stroke="#000" stroke-width="2.6"/>
<line x1="85.3" y1="636.5" x2="97.3" y2="636.5" stroke="#000" stroke-width="2.6"/>
<line x1="711.6" y1="636.5" x2="699.6" y2="636.5" stroke="#000" stroke-width="2.6"/>
<line x1="85.3" y1="726.0" x2="97.3" y2="726.0" stroke="#000" stroke-width="2.6"/>
<line x1="711.6" y1="726.0" x2="699.6" y2="726.0" stroke="#000" stroke-width="2.6"/>
<text x="71.8" y="556.6" text-anchor="end" font-size="29">0</text>
<text x="71.8" y="646.1" text-anchor="end" font-size="29">5</text>
<text x="71.8" y="735.6" text-anchor="end" font-size="29">10</text>
<text x="71.8" y="825.1" text-anchor="end" font-size="29">15</text>
<text x="124.4" y="846.8" text-anchor="middle" font-size="29">150</text>
<text x="320.2" y="846.8" text-anchor="middle" font-size="29">100</text>
<text x="515.9" y="846.8" text-anchor="middle" font-size="29">50</text>
<text x="711.6" y="846.8" text-anchor="middle" font-size="29">0</text>
<text x="398.4" y="887.7" text-anchor="middle" font-size="29">Distance (km)</text>
<text transform="translate(22.0,681.2) rotate(-90)" x="0" y="0" text-anchor="middle" font-size="29">Depth (km)</text>
<rect x="851.6" y="546.8" width="626.3" height="268.7" fill="none" stroke="#000" stroke-width="2.6"/>
<line x1="890.7" y1="546.8" x2="890.7" y2="559.8" stroke="#000" stroke-width="2.6"/>
<line x1="890.7" y1="815.5" x2="890.7" y2="802.5" stroke="#000" stroke-width="2.6"/>
<line x1="1086.5" y1="546.8" x2="1086.5" y2="559.8" stroke="#000" stroke-width="2.6"/>
<line x1="1086.5" y1="815.5" x2="1086.5" y2="802.5" stroke="#000" stroke-width="2.6"/>
<line x1="1282.2" y1="546.8" x2="1282.2" y2="559.8" stroke="#000" stroke-width="2.6"/>
<line x1="1282.2" y1="815.5" x2="1282.2" y2="802.5" stroke="#000" stroke-width="2.6"/>
<line x1="851.6" y1="636.4" x2="863.6" y2="636.4" stroke="#000" stroke-width="2.6"/>
<line x1="1477.9" y1="636.4" x2="1465.9" y2="636.4" stroke="#000" stroke-width="2.6"/>
<line x1="851.6" y1="725.9" x2="863.6" y2="725.9" stroke="#000" stroke-width="2.6"/>
<line x1="1477.9" y1="725.9" x2="1465.9" y2="725.9" stroke="#000" stroke-width="2.6"/>
<text x="838.1" y="556.4" text-anchor="end" font-size="29">0</text>
<text x="838.1" y="646.0" text-anchor="end" font-size="29">5</text>
<text x="838.1" y="735.5" text-anchor="end" font-size="29">10</text>
<text x="838.1" y="825.1" text-anchor="end" font-size="29">15</text>
<text x="890.7" y="846.8" text-anchor="middle" font-size="29">150</text>
<text x="1086.5" y="846.8" text-anchor="middle" font-size="29">100</text>
<text x="1282.2" y="846.8" text-anchor="middle" font-size="29">50</text>
<text x="1477.9" y="846.8" text-anchor="middle" font-size="29">0</text>
<text x="1164.8" y="887.7" text-anchor="middle" font-size="29">Distance (km)</text>
<text transform="translate(785.6,681.1) rotate(-90)" x="0" y="0" text-anchor="middle" font-size="29">Depth (km)</text>
<text transform="translate(2.6,30) scale(0.91,1)" font-size="42" font-weight="bold">a</text>
<text x="765.5" y="29.8" font-size="42" font-weight="bold">b</text>
<text x="2.5" y="508.8" font-size="42" font-weight="bold">c</text>
<text x="766" y="507.3" font-size="42" font-weight="bold">d</text>
<text x="98.7" y="59.3" font-size="29">NW</text>
<text x="864.8" y="54.5" font-size="29">NW</text>
<text x="96.4" y="531" font-size="29">NW</text>
<text x="864.8" y="529.9" font-size="29">NW</text>
<text x="660.5" y="59.3" font-size="29">SE</text>
<text x="1426.8" y="54.0" font-size="29">SE</text>
<text x="657.9" y="530.9" font-size="29">SE</text>
<text x="1426.6" y="529.8" font-size="29">SE</text>
<text x="470.8" y="42.4" font-size="29.35">Prism toe</text>
<text x="1174.2" y="43.8" font-size="29.35">Prism toe</text>
<text x="360.6" y="519.9" font-size="29.35">Prism toe</text>
<text x="1157.0" y="521" font-size="29.35">Prism toe</text>
<line x1="459.2" y1="59.2" x2="589.7" y2="59.2" stroke="#000" stroke-width="1.6"/>
<path d="M453.2,59.2 L468.2,51.400000000000006 L464.2,59.2 L468.2,67.0 Z" fill="#000"/>
<path d="M595.7,59.2 L580.7,51.400000000000006 L584.7,59.2 L580.7,67.0 Z" fill="#000"/>
<line x1="1171.3" y1="60.8" x2="1301.5" y2="60.8" stroke="#000" stroke-width="1.6"/>
<path d="M1165.3,60.8 L1180.3,53.0 L1176.3,60.8 L1180.3,68.6 Z" fill="#000"/>
<path d="M1307.5,60.8 L1292.5,53.0 L1296.5,60.8 L1292.5,68.6 Z" fill="#000"/>
<line x1="348.1" y1="534.2" x2="503.8" y2="534.2" stroke="#000" stroke-width="1.6"/>
<path d="M342.1,534.2 L357.1,526.4000000000001 L353.1,534.2 L357.1,542.0 Z" fill="#000"/>
<path d="M509.8,534.2 L494.8,526.4000000000001 L498.8,534.2 L494.8,542.0 Z" fill="#000"/>
<line x1="1128.8" y1="534.4" x2="1297.5" y2="534.4" stroke="#000" stroke-width="1.6"/>
<path d="M1122.8,534.4 L1137.8,526.6 L1133.8,534.4 L1137.8,542.1999999999999 Z" fill="#000"/>
<path d="M1303.5,534.4 L1288.5,526.6 L1292.5,534.4 L1288.5,542.1999999999999 Z" fill="#000"/>
<text x="660.5" y="115.2" font-size="25.0">L1</text>
<text x="1427.4" y="112.9" font-size="25.0">L2</text>
<text x="660.7" y="582.8" font-size="25.0">L3</text>
<text x="1427.2" y="582" font-size="25.0">L4</text>
<path d="M641.2,201.2 H619 M626,194.7 L619,201.2 L626,207.7" fill="none" stroke="#000" stroke-width="1.4"/>
<text x="643.2" y="207.5" font-size="25.0">LVZ</text>
<path d="M1353.9,201.1 H1331.2 M1338.2,194.6 L1331.2,201.1 L1338.2,207.6" fill="none" stroke="#000" stroke-width="1.4"/>
<text x="1355.1" y="207" font-size="25.0">LVZ</text>
<path d="M1411.3,656.3 H1388.3 M1395.3,649.8 L1388.3,656.3 L1395.3,662.8" fill="none" stroke="#000" stroke-width="1.4"/>
<text x="1412.1" y="662.6" font-size="25.0">LVZ</text>
<text x="609" y="662.9" font-size="25.3">Thin or</text>
<text x="608.6" y="697" font-size="25.3">no LVZ</text>
<text x="330.5" y="308.7" font-size="24.6">Vs (km s<tspan font-size="17" dy="-10">−1</tspan><tspan dy="10">)</tspan></text>
<path d="M470.4,291.1 V308.1 H590.4 V291.1 M500.4,308.1 v-10.5 M530.4,308.1 v-13.5 M560.4,308.1 v-10.5" fill="none" stroke="#000" stroke-width="1.5"/>
<text x="471.3" y="284" text-anchor="middle" font-size="25.0">0</text>
<text x="589.9" y="284" text-anchor="middle" font-size="25.0">4</text>
<text x="899.3" y="240" font-size="24.6">Vs (km s<tspan font-size="17" dy="-10">−1</tspan><tspan dy="10">)</tspan></text>
<path d="M925,290.5 V307.5 H1045.0 V290.5 M955.0,307.5 v-10.5 M985.0,307.5 v-13.5 M1015.0,307.5 v-10.5" fill="none" stroke="#000" stroke-width="1.5"/>
<text x="925" y="281.7" text-anchor="middle" font-size="25.0">0</text>
<text x="1037.3" y="281.7" text-anchor="middle" font-size="25.0">4</text>
<text x="117.8" y="791.2" font-size="24.6">Vs (km s<tspan font-size="17" dy="-10">−1</tspan><tspan dy="10">)</tspan></text>
<path d="M265.3,775.2 V792.2 H385.3 V775.2 M295.3,792.2 v-10.5 M325.3,792.2 v-13.5 M355.3,792.2 v-10.5" fill="none" stroke="#000" stroke-width="1.5"/>
<text x="265.8" y="764.6" text-anchor="middle" font-size="25.0">0</text>
<text x="384.9" y="764.6" text-anchor="middle" font-size="25.0">4</text>
<text x="909.8" y="719.1" font-size="24.6">Vs (km s<tspan font-size="17" dy="-10">−1</tspan><tspan dy="10">)</tspan></text>
<path d="M952.2,774.5 V791.5 H1072.2 V774.5 M982.2,791.5 v-10.5 M1012.2,791.5 v-13.5 M1042.2,791.5 v-10.5" fill="none" stroke="#000" stroke-width="1.5"/>
<text x="952.8" y="764.6" text-anchor="middle" font-size="25.0">0</text>
<text x="1065.9" y="764.6" text-anchor="middle" font-size="25.0">4</text>
</svg></body></html>
